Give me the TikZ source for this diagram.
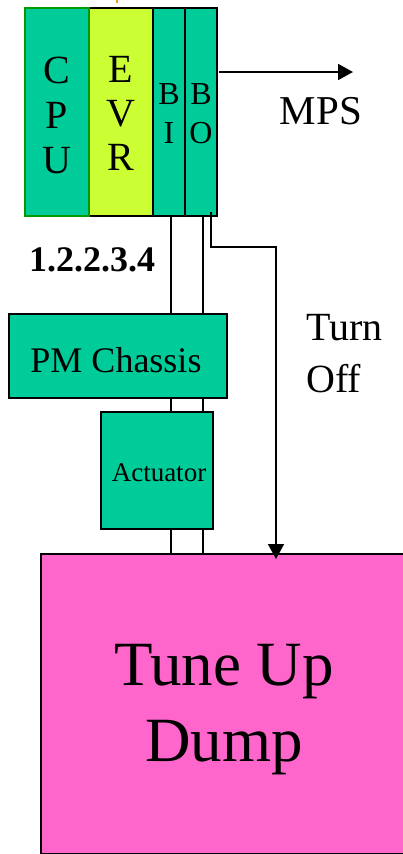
\documentclass[tikz,border=0pt]{standalone}
\usepackage{fontspec}
\setmainfont{Liberation Serif}
\usetikzlibrary{arrows.meta}
\definecolor{teal1}{HTML}{00CC99}
\definecolor{lime1}{HTML}{CCFF33}
\definecolor{pink1}{HTML}{FF66CC}
\definecolor{cpuborder}{HTML}{009900}
\definecolor{tick}{HTML}{E6A020}
\tikzset{
  blk/.style={draw=black, line width=2pt, fill=teal1, anchor=north west, inner sep=0pt, outer sep=0pt},
  lbl/.style={inner sep=0pt, align=center, text=black},
  wire/.style={line width=2pt},
  arr/.style={line width=1.8pt, -{Triangle[width=16pt,length=15pt]}},
}
\begin{document}
\begin{tikzpicture}[x=1pt,y=-1pt]
\useasboundingbox (0,0) rectangle (402,854);
% top orange tick
\draw[tick, line width=2pt] (117,0) -- (117,3);
% top block
\node[blk, fill=lime1, minimum width=64pt, minimum height=208pt] (evr) at (89,8) {};
\node[blk, minimum width=32pt, minimum height=208pt] (bi) at (153,8) {};
\node[blk, minimum width=32pt, minimum height=208pt] (bo) at (185,8) {};
\node[blk, draw=cpuborder, minimum width=64pt, minimum height=208pt] (cpu) at (25,8) {};
% letters
\node[lbl, font=\fontsize{40}{45}\selectfont] (cput) at (57,115) {C\\P\\U};
\node[lbl, font=\fontsize{40}{44}\selectfont] (evrt) at (121,113) {E\\V\\R};
\node[lbl, font=\fontsize{32}{39}\selectfont] (bit) at (169,114) {B\\I};
\node[lbl, font=\fontsize{32}{39}\selectfont] (bot) at (201,114) {B\\O};
% MPS
\coordinate (mpsend) at (353,72);
\path (bo.east |- mpsend) ++(2,0) coordinate (mpsstart);
\draw[arr] (mpsstart) -- (mpsend);
\node[lbl, font=\fontsize{41}{46}\selectfont] (mps) at (321,111) {MPS};
% label
\node[lbl, font=\fontsize{36}{40}\selectfont\bfseries] (num) at (92,260) {1.2.2.3.4};
% PM chassis
\node[blk, minimum width=218pt, minimum height=84pt] (pm) at (9,314) {};
\node[lbl, font=\fontsize{36}{40}\selectfont] (pmt) at (116,360) {PM Chassis};
% Actuator
\node[blk, minimum width=112pt, minimum height=117pt] (act) at (101,412) {};
\node[lbl, font=\fontsize{27}{30}\selectfont] (actt) at (159,473) {Actuator};
% Tune up dump
\node[blk, fill=pink1, minimum width=365pt, minimum height=300pt] (dump) at (41,554) {};
\node[lbl, font=\fontsize{63}{76}\selectfont] (dumpt) at (224,710) {Tune Up\\Dump};
% Turn off
\node[lbl, font=\fontsize{40}{52}\selectfont, align=left, anchor=north west] (turn) at (306,314) {Turn\\Off};
% wires
\draw[wire] (171,216) coordinate (w1a) -- (w1a |- pm.north);
\draw[wire] (203,216) coordinate (w2a) -- (w2a |- pm.north);
\draw[wire] (w1a |- pm.south) -- (w1a |- act.north);
\draw[wire] (w2a |- pm.south) -- (w2a |- act.north);
\draw[wire] (w1a |- act.south) -- (w1a |- dump.north);
\draw[wire] (w2a |- act.south) -- (w2a |- dump.north);
% turn off arrow
\coordinate (toa) at (211,212);
\coordinate (tob) at (276,247);
\draw[arr] (toa) |- (tob) -- ([yshift=-5pt]tob |- dump.north);
% redraw border over
\draw[line width=2pt] (bo.south west) rectangle (bo.north east);
\end{tikzpicture}
\end{document}
